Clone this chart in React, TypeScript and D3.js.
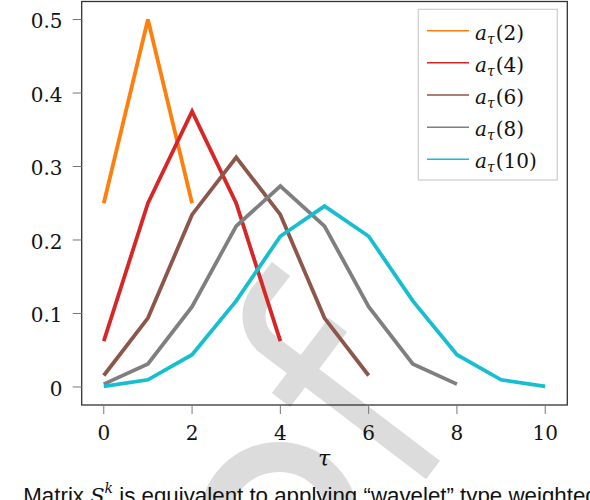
import React from "react";
import * as d3 from "d3";

const tauValues = [0, 1, 2, 3, 4, 5, 6, 7, 8, 9, 10];
const seriesNames = ["2", "4", "6", "8", "10"];
const a2 = [0.25, 0.5, 0.25];
const a4 = [0.0625, 0.25, 0.375, 0.25, 0.0625];
const a6 = [0.0156, 0.0938, 0.2344, 0.3125, 0.2344, 0.0938, 0.0156];
const a8 = [0.0039, 0.0313, 0.1094, 0.2188, 0.2734, 0.2188, 0.1094, 0.0313, 0.0039];
const a10 = [0.001, 0.0098, 0.0439, 0.1172, 0.2051, 0.2461, 0.2051, 0.1172, 0.0439, 0.0098, 0.001];
const xTicks = [0, 2, 4, 6, 8, 10];
const yTicks = [0, 0.1, 0.2, 0.3, 0.4, 0.5];
const yTickLabels = ["0", "0.1", "0.2", "0.3", "0.4", "0.5"];
const colors = ["#ff7f0e", "#d62728", "#8c564b", "#7f7f7f", "#17becf"];

const W = 590;
const H = 500;
const plotLeft = 81.7;
const plotRight = 567.3;
const plotTop = 1.5;
const plotBottom = 405;

export default function App() {
  const x = d3.scaleLinear().domain([-0.5, 10.5]).range([plotLeft, plotRight]);
  const y = d3.scaleLinear().domain([-0.0245, 0.5245]).range([plotBottom, plotTop]);
  const series = [a2, a4, a6, a8, a10];
  const line = d3
    .line<number>()
    .x((_, i) => x(tauValues[i]))
    .y((d) => y(d));

  const serif = "DejaVu Serif, serif";
  const sans = "Liberation Sans, Arial, sans-serif";
  const wm = "#dcdcdc";

  const legendX0 = 427;
  const legendX1 = 469;
  const legendY = d3.scaleLinear().domain([0, 4]).range([30.7, 159.3]);

  return (
    <svg
      width={W}
      height={H}
      style={{ position: "absolute", left: 0, top: 0, background: "#fff" }}
    >
      {/* watermark */}
      <g fill="none" stroke={wm} strokeLinejoin="miter">
        <path d="M 433 470 L 268.2 344.7 A 36 36 0 0 1 259.8 296.5 L 281 269" strokeWidth={23} />
        <path d="M 281 400 L 338 325" strokeWidth={23} />
        <circle cx={279} cy={522} r={65} strokeWidth={30} />
      </g>

      {/* frame */}
      <rect
        x={plotLeft}
        y={plotTop}
        width={plotRight - plotLeft}
        height={plotBottom - plotTop}
        fill="none"
        stroke="#333"
        strokeWidth={1.3}
      />

      {/* x ticks */}
      {xTicks.map((t) => (
        <g key={"x" + t}>
          <line x1={x(t)} x2={x(t)} y1={plotBottom} y2={plotBottom + 9} stroke="#777" strokeWidth={1} />
          <text x={x(t)} y={440} textAnchor="middle" fontFamily={serif} fontSize={20} fill="#111">
            {t}
          </text>
        </g>
      ))}
      {/* y ticks */}
      {yTicks.map((t, i) => (
        <g key={"y" + t}>
          <line x1={plotLeft - 9} x2={plotLeft} y1={y(t)} y2={y(t)} stroke="#777" strokeWidth={1} />
          <text x={62.5} y={y(t) + 8.6} textAnchor="end" fontFamily={serif} fontSize={20} fill="#111">
            {yTickLabels[i]}
          </text>
        </g>
      ))}

      {/* x label */}
      <text x={324} y={466} textAnchor="middle" fontFamily={serif} fontStyle="italic" fontSize={22} fill="#111">
        τ
      </text>

      {/* series */}
      {series.map((s, i) => (
        <path
          key={"s" + i}
          d={line(s) || ""}
          fill="none"
          stroke={colors[i]}
          strokeWidth={3.8}
          strokeLinejoin="miter"
        />
      ))}

      {/* legend */}
      <rect x={418.3} y={9.3} width={139} height={170.7} fill="#fff" stroke="#ccc" strokeWidth={1.2} />
      {seriesNames.map((n, i) => (
        <g key={"l" + n}>
          <line x1={legendX0} x2={legendX1} y1={legendY(i)} y2={legendY(i)} stroke={colors[i]} strokeWidth={1.5} />
          <text x={475} y={legendY(i) + 8.8} fontFamily={serif} fontSize={20} fill="#111">
            <tspan fontStyle="italic">a</tspan>
            <tspan fontStyle="italic" fontSize={14} dy={4}>τ</tspan>
            <tspan dy={-4} dx={1}>({n})</tspan>
          </text>
        </g>
      ))}

      {/* caption */}
      <text x={10} y={503} textAnchor="end" fontFamily={sans} fontSize={22} fill="#111">
        1.
      </text>
      <text x={23.3} y={503} fontFamily={sans} fontSize={22.3} fill="#111">
        Matrix <tspan fontFamily={serif} fontStyle="italic" fontSize={21}>S</tspan>
        <tspan fontFamily={serif} fontStyle="italic" fontSize={14} dy={-10}>k</tspan>
        <tspan dy={10}> is equivalent to applying “wavelet” type weighted</tspan>
      </text>
    </svg>
  );
}
